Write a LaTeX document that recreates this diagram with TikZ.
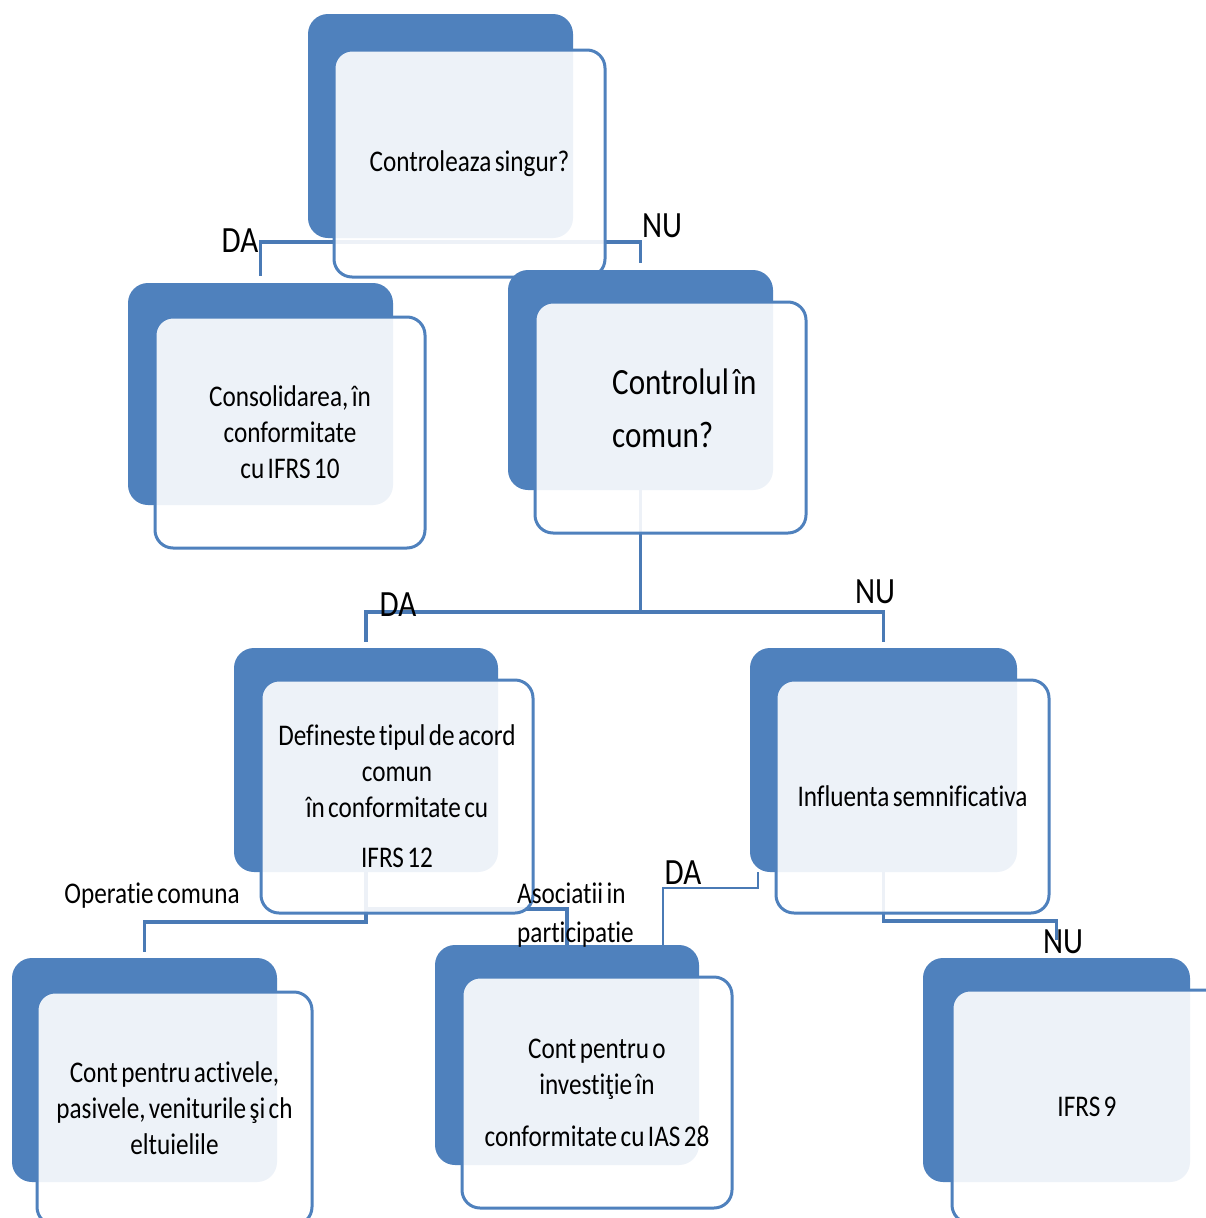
\documentclass[tikz,border=0pt]{standalone}
\usepackage{fontspec}
\setmainfont{Carlito}[Ligatures=NoCommon]
\newfontfamily\boxfont[FakeStretch=0.84,Ligatures=NoCommon,WordSpace=0.6]{Carlito}
\usetikzlibrary{calc}
\definecolor{darkblue}{HTML}{4F81BD}
\definecolor{lineblue}{HTML}{4A7AB5}
\pgfdeclarelayer{bg}
\pgfdeclarelayer{paper}
\pgfsetlayers{paper,bg,main}
\begin{document}
\begin{tikzpicture}[x=1pt,y=-1pt,
  back/.style={fill=darkblue, draw=none, rounded corners=20pt, inner sep=0pt},
  front/.style={draw=darkblue, line width=3pt, fill=white, fill opacity=0.9, text opacity=1,
    rounded corners=18pt, align=center, inner sep=0pt, font=\boxfont\fontsize{30}{36}\selectfont},
  conn/.style={draw=lineblue, line width=3.5pt},
  lbl/.style={font=\boxfont\fontsize{37}{40}\selectfont, inner sep=0pt},
  txt/.style={font=\boxfont\fontsize{30}{39}\selectfont, inner sep=0pt}]
\useasboundingbox (0,0) rectangle (1205,1218);
\begin{pgfonlayer}{paper}
\fill[white] (0,0) rectangle (1205,1218);
\end{pgfonlayer}

% box 1
\node[back, minimum width=265pt, minimum height=224pt] (d1) at (440.5,126) {};
\node[front, minimum width=271pt, minimum height=227pt] (o1) at (469.5,163.5) {Controleaza singur?};
% box 2
\node[back, minimum width=265pt, minimum height=222pt] (d2) at (260.5,394) {};
\node[front, minimum width=270pt, minimum height=231pt] (o2) at (290,432.5) {Consolidarea, în\\conformitate\\cu IFRS 10};
% box 3
\node[back, minimum width=265pt, minimum height=220pt] (d3) at (640.5,380) {};
\node[front, minimum width=271pt, minimum height=231pt] (o3) at (670.5,417.5) {};
\node[font=\boxfont\fontsize{37}{53}\selectfont, align=left, anchor=west, inner sep=0pt] (t3) at (612,408) {Controlul în\\comun?};
% box 4
\node[back, minimum width=264pt, minimum height=224pt] (d4) at (366,760) {};
\node[front, minimum width=272pt, minimum height=233pt] (o4) at (397,796.5) {Defineste tipul de acord\\comun\\în conformitate cu\\[14pt]IFRS 12};
% box 5
\node[back, minimum width=267pt, minimum height=224pt] (d5) at (883.5,760) {};
\node[front, minimum width=273pt, minimum height=233pt] (o5) at (912.5,796.5) {Influenta semnificativa};
% box 6
\node[back, minimum width=265pt, minimum height=224pt] (d6) at (144.5,1070) {};
\node[front, minimum width=275pt, minimum height=233pt] (o6) at (174.5,1108.5) {Cont pentru activele,\\pasivele, veniturile şi ch\\eltuielile};
% box 7
\node[back, minimum width=264pt, minimum height=220pt] (d7) at (567,1055) {};
\node[front, minimum width=270pt, minimum height=231pt] (o7) at (597,1092.5) {Cont pentru o\\investiţie în\\[16pt]conformitate cu IAS 28};
% box 8
\node[back, minimum width=267pt, minimum height=224pt] (d8) at (1056.5,1070) {};
\node[front, minimum width=270pt, minimum height=233pt] (o8) at (1087,1106.5) {IFRS 9};

\coordinate (e5) at (663,975);

\begin{pgfonlayer}{bg}
\draw[conn] ([yshift=7pt]d2.north) |- ([yshift=-4pt]d1.south) -| ([yshift=7pt]d3.north);
\draw[conn] (d3.south) -- ([yshift=-122pt]d3.south);
\draw[conn] ([yshift=6pt]d4.north) |- ([yshift=-122pt]d3.south) -| ([yshift=6pt]d5.north);
\draw[conn] (d4.south) -- ([yshift=-50pt]d4.south) -| ([yshift=6pt]d6.north);
\draw[conn] ([yshift=-37pt]d4.south) -| (d7.north);
\draw[conn, line width=2.5pt] ([xshift=8pt]d5.south west) -- ([xshift=8pt,yshift=-16pt]d5.south west) -| (e5);
\draw[conn] (d5.south) -- ([yshift=-49pt]d5.south) -| ([yshift=18pt]d8.north);
\end{pgfonlayer}

% labels
\node[lbl] (l1) at (240,241) {DA};
\node[lbl] (l2) at (662,226) {NU};
\node[lbl] (l3) at (398,605) {DA};
\node[lbl] (l4) at (875,592) {NU};
\node[txt] (l5) at (152,896) {Operatie comuna};
\node[txt, align=left, anchor=west] (l6) at (517,915) {Asociatii in\\participatie};
\node[lbl] (l7) at (683,873) {DA};
\node[lbl] (l8) at (1063,942) {NU};
\end{tikzpicture}
\end{document}
